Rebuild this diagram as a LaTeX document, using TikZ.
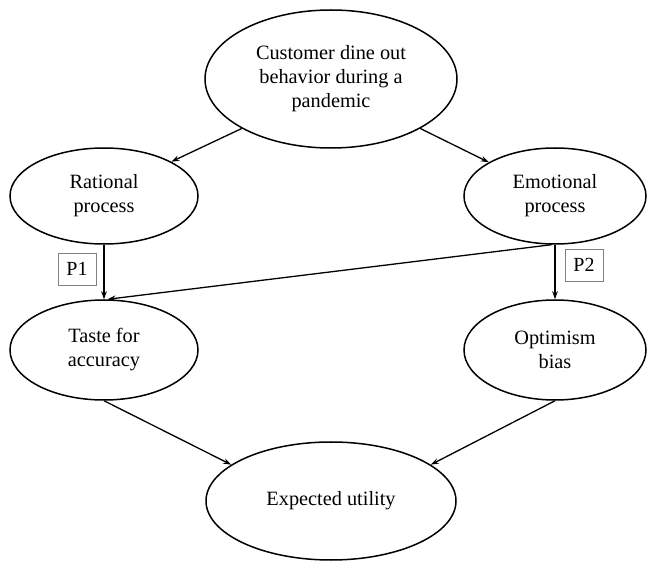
\documentclass[tikz,border=0pt]{standalone}
\usepackage{fontspec}
\setmainfont{Liberation Serif}
\usetikzlibrary{shapes.geometric, arrows.meta, positioning}

\begin{document}
\begin{tikzpicture}[x=1pt, y=-1pt,
  oval/.style={draw, ellipse, line width=1.5pt, inner sep=0pt, align=center, font=\fontsize{20.3}{24}\selectfont},
  tag/.style={draw=gray, line width=0.9pt, minimum width=38pt, minimum height=32pt, inner sep=0pt, font=\fontsize{20}{22}\selectfont},
  conn/.style={line width=1.3pt, -{Stealth[length=8pt, width=5.5pt]}}]
\useasboundingbox (0,0) rectangle (649,564);
\node[oval, minimum width=252pt, minimum height=138pt] (dine) at (331,79) {Customer dine out\\behavior during a\\pandemic};
\node[oval, minimum width=188pt, minimum height=96pt] (rational) at (104,196) {Rational\\process};
\node[oval, minimum width=182pt, minimum height=96pt] (emotional) at (555,196) {Emotional\\process};
\node[oval, minimum width=188pt, minimum height=100pt] (taste) at (104,350) {Taste for\\accuracy};
\node[oval, minimum width=182pt, minimum height=100pt] (optimism) at (555,350) {Optimism\\bias};
\node[oval, minimum width=250pt, minimum height=118pt] (utility) at (331,501) {Expected utility};
\node[tag] (p1) at (77,269) {P1};
\node[tag] (p2) at (584,265) {P2};
\draw[conn] (dine.209) -- (rational.27);
\draw[conn] (dine.331) -- (emotional.153);
\draw[conn] (rational.south) -- (taste.north);
\draw[conn] (emotional.south) -- (optimism.north);
\draw[conn] (emotional.266) -- (taste.86);
\draw[conn] (taste.south) -- (utility.160);
\draw[conn] (optimism.south) -- (utility.20);
\end{tikzpicture}
\end{document}
